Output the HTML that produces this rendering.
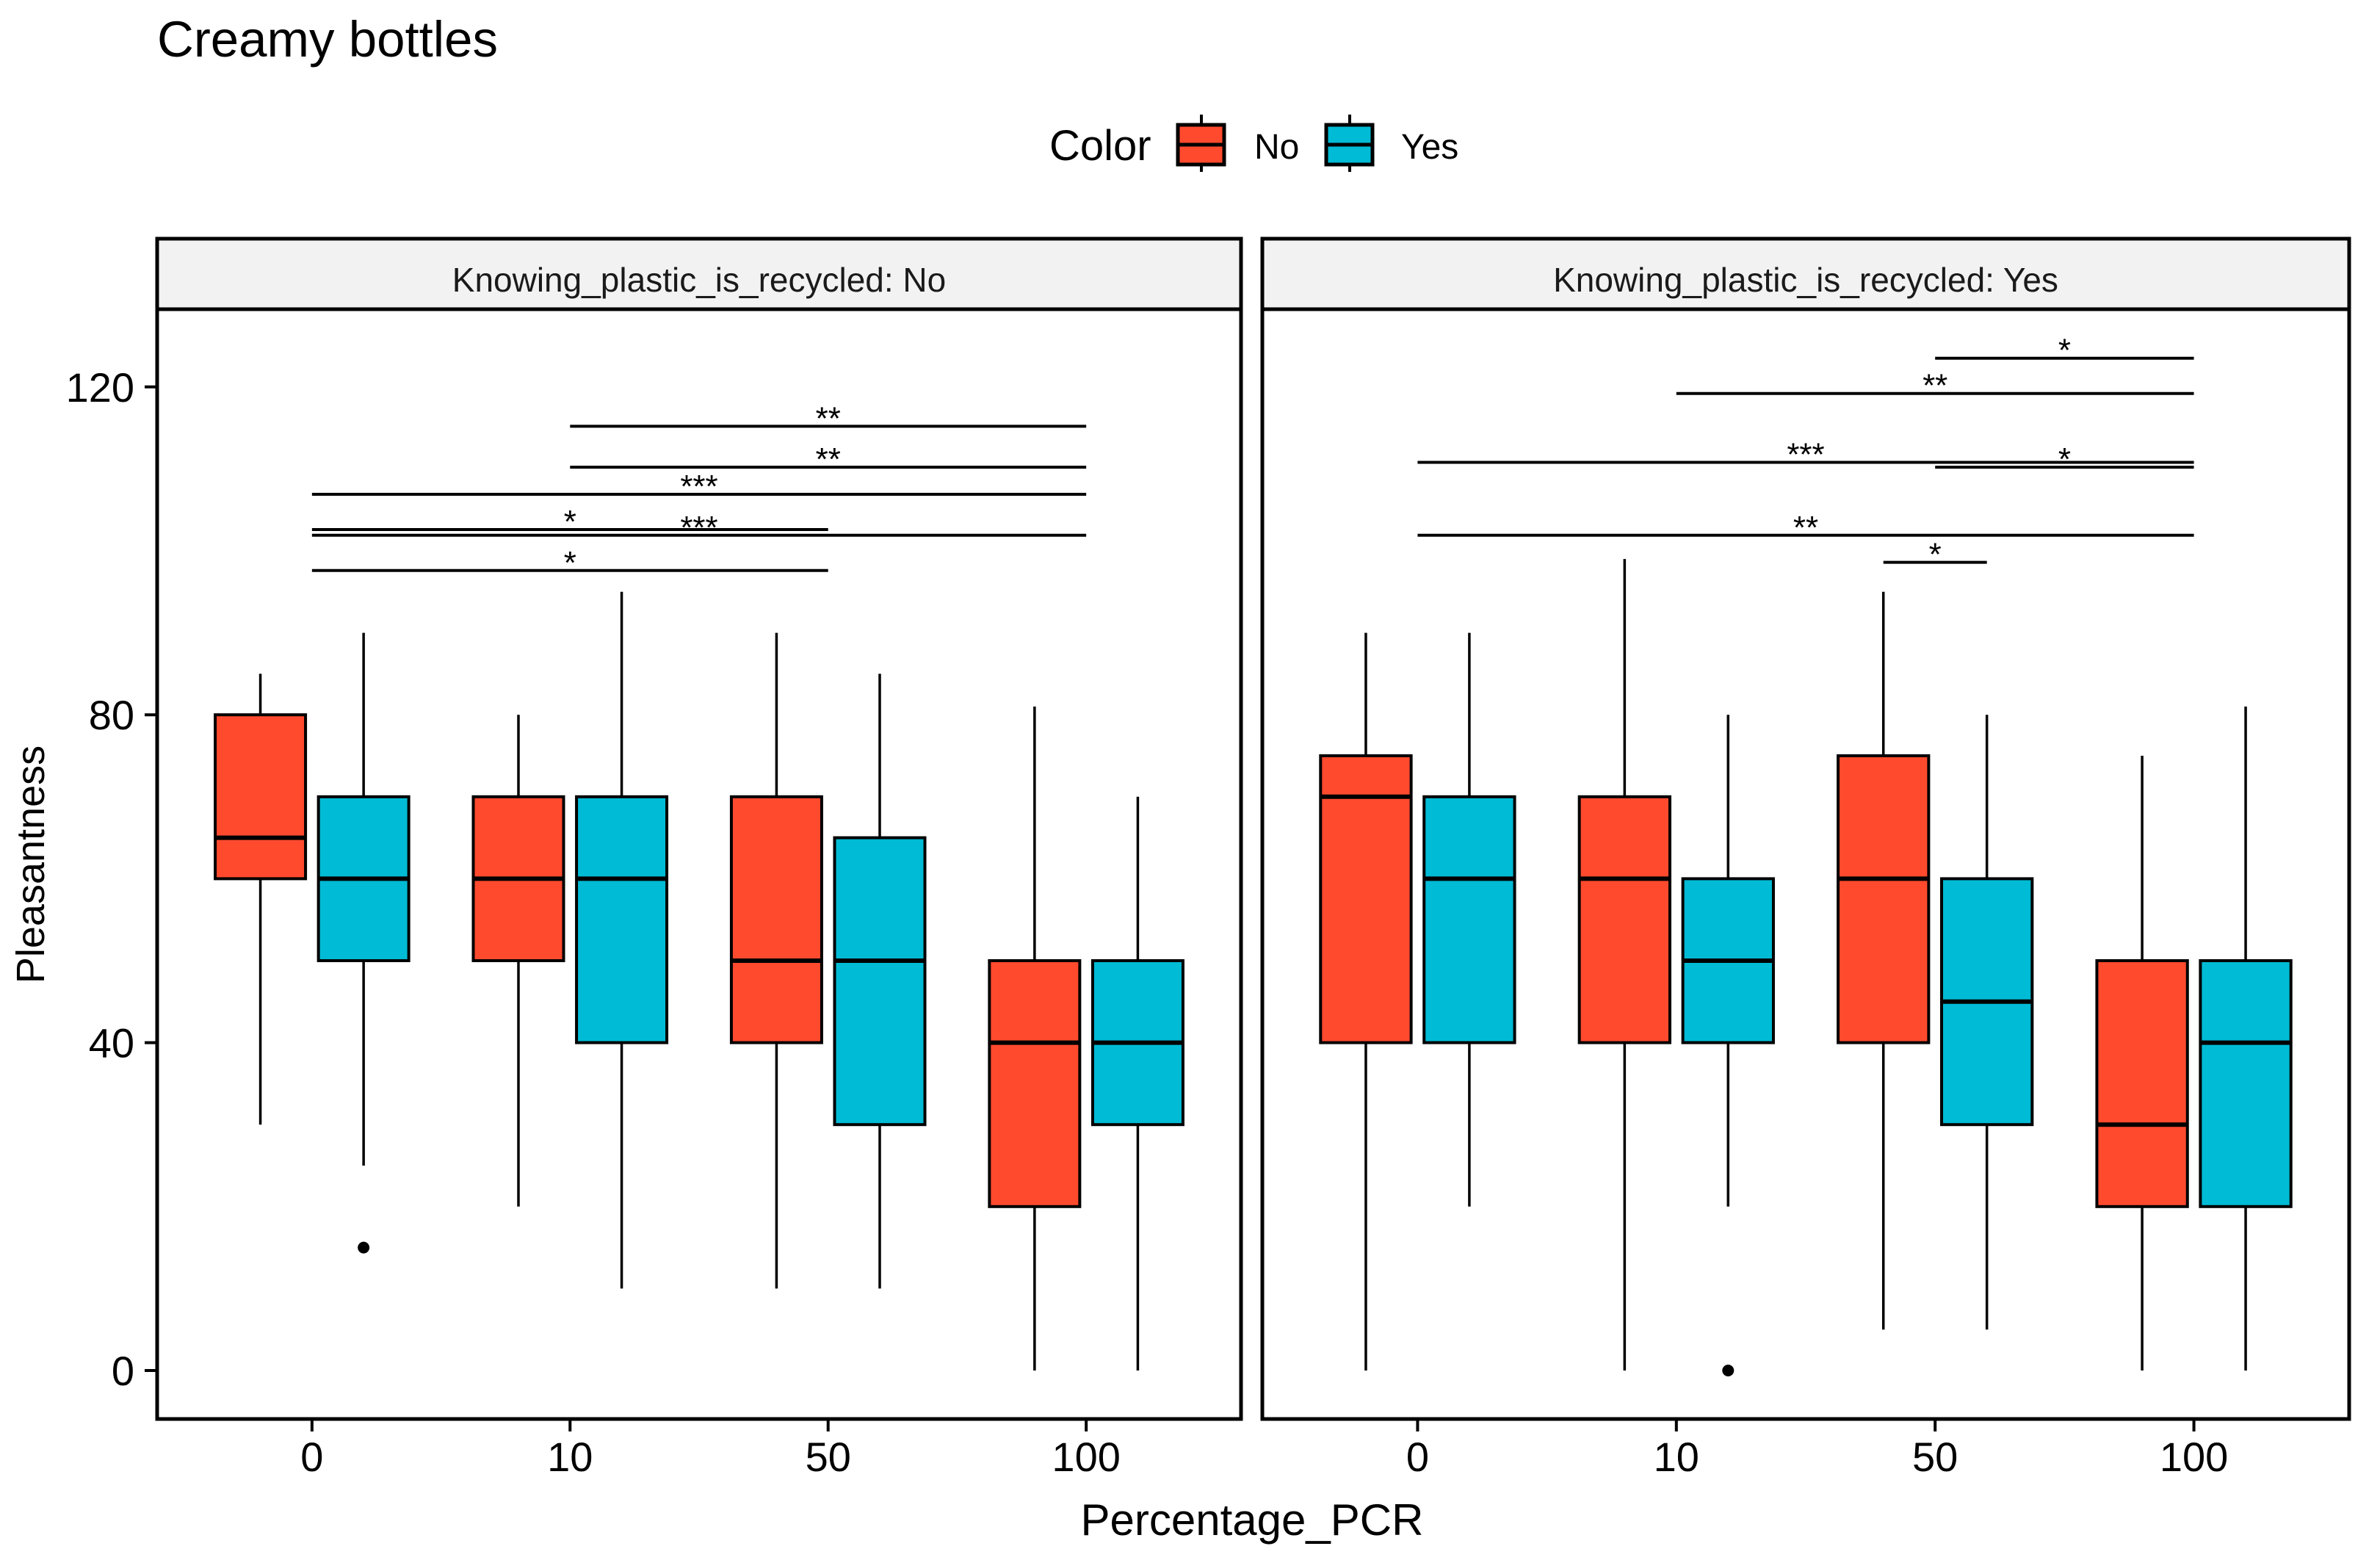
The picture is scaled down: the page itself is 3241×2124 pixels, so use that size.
<!DOCTYPE html>
<html><head><meta charset="utf-8"><style>
html,body{margin:0;padding:0;background:#fff;}
svg{display:block;font-family:"Liberation Sans",Arial,sans-serif;}
</style></head><body>
<svg id="chart" width="3241" height="2124" viewBox="0 0 3241 2124" xmlns="http://www.w3.org/2000/svg">
<rect x="0" y="0" width="3241" height="2124" fill="#fff"/>
<text x="214" y="77" font-size="69" fill="#000">Creamy bottles</text>
<g>
<text x="1429" y="218" font-size="58">Color</text>
<g>
<line x1="1636" y1="156" x2="1636" y2="234" stroke="#000" stroke-width="4"/>
<rect x="1604" y="170" width="63" height="54" fill="#FF4A2E" stroke="#000" stroke-width="5"/>
<line x1="1604" y1="197" x2="1667" y2="197" stroke="#000" stroke-width="5"/>
<text x="1708" y="216" font-size="48">No</text>
</g>
<g>
<line x1="1838" y1="156" x2="1838" y2="234" stroke="#000" stroke-width="4"/>
<rect x="1806" y="170" width="63" height="54" fill="#00BBD5" stroke="#000" stroke-width="5"/>
<line x1="1806" y1="197" x2="1869" y2="197" stroke="#000" stroke-width="5"/>
<text x="1908" y="216" font-size="48">Yes</text>
</g>
</g>
<text transform="translate(60,1177) rotate(-90)" text-anchor="middle" font-size="54">Pleasantness</text>
<text x="1705" y="2090" text-anchor="middle" font-size="60">Percentage_PCR</text>
<g id="panels"></g>
</svg>
<script>
const categories = ["0","10","50","100"];
const groups = ["No","Yes"];
const panelTitles = ["Knowing_plastic_is_recycled: No","Knowing_plastic_is_recycled: Yes"];
const yTicks = [0,40,80,120];
// [panel][category][group] = [lowWhisker, q1, median, q3, highWhisker]
const statsP1No  = [[30,60,65,80,85],[20,50,60,70,80],[10,40,50,70,90],[0,20,40,50,81]];
const statsP1Yes = [[25,50,60,70,90],[10,40,60,70,95],[10,30,50,65,85],[0,30,40,50,70]];
const statsP2No  = [[0,40,70,75,90],[0,40,60,70,99],[5,40,60,75,95],[0,20,30,50,75]];
const statsP2Yes = [[20,40,60,70,90],[20,40,50,60,80],[5,30,45,60,80],[0,20,40,50,81]];
// outliers: [panel, categoryIndex, groupIndex, value]
const outliers = [[0,0,1,15],[1,1,1,0]];
// brackets: [panel, fromCat, fromGroup(-1 = center), toCat, toGroup, yValue, label]
const brackets = [
 [0,1,-1,3,-1,115.2,"**"],[0,1,-1,3,-1,110.2,"**"],[0,0,-1,3,-1,106.9,"***"],
 [0,0,-1,2,-1,102.6,"*"],[0,0,-1,3,-1,101.9,"***"],[0,0,-1,2,-1,97.6,"*"],
 [1,2,-1,3,-1,123.5,"*"],[1,1,-1,3,-1,119.2,"**"],[1,0,-1,3,-1,110.8,"***"],
 [1,2,-1,3,-1,110.2,"*"],[1,0,-1,3,-1,101.9,"**"],[1,2,0,2,1,98.6,"*"]
];
const NS="http://www.w3.org/2000/svg";
const colors=["#FF4A2E","#00BBD5"];
const panels=[{left:214,right:1690},{left:1719,right:3199}];
const stripTop=325, stripBot=421, plotBot=1932;
const stats=[[statsP1No,statsP1Yes],[statsP2No,statsP2Yes]];
function yS(v){return 1866-v*11.16;}
function xS(p,ci,gi){const P=panels[p];const u=(P.right-P.left)/4.2;let x=P.left+(0.6+ci)*u;if(gi===0)x-=0.2*u;if(gi===1)x+=0.2*u;return x;}
function bw(p){return (panels[p].right-panels[p].left)/4.2*0.35;}
function mk(tag,attrs,parent){const e=document.createElementNS(NS,tag);for(const k in attrs)e.setAttribute(k,attrs[k]);parent.appendChild(e);return e;}
const root=document.getElementById('panels');
panels.forEach((P,p)=>{
 const g=mk('g',{},root);
 
 
 const strip=mk('rect',{x:P.left,y:stripTop,width:P.right-P.left,height:stripBot-stripTop,fill:'#F2F2F2',stroke:'#000','stroke-width':5},g);
 
 
 const st=mk('text',{x:(P.left+P.right)/2,y:397,'text-anchor':'middle','font-size':46,fill:'#1a1a1a'},g);
 st.textContent=panelTitles[p];
 
 
 if(p===0){
 yTicks.forEach(t=>{
  const y=yS(t);
  mk('line',{x1:P.left-17,x2:P.left,y1:y,y2:y,stroke:'#000','stroke-width':4},g);
  const tl=mk('text',{x:183,y:y+20,'text-anchor':'end','font-size':56},g);tl.textContent=t;
  
  
 });
 }
 categories.forEach((c,ci)=>{
  const x=xS(p,ci,-1);
  mk('line',{x1:x,x2:x,y1:plotBot,y2:plotBot+17,stroke:'#000','stroke-width':4},g);
  const tl=mk('text',{x:x,y:2003,'text-anchor':'middle','font-size':56},g);tl.textContent=c;
  
  
  groups.forEach((gr,gi)=>{
   const s=stats[p][gi][ci];const cx=xS(p,ci,gi);const w=bw(p);
   const bg=mk('g',{},g);
   
   
   mk('line',{x1:cx,x2:cx,y1:yS(s[0]),y2:yS(s[4]),stroke:'#000','stroke-width':3.5},bg);
   mk('rect',{x:cx-w/2,y:yS(s[3]),width:w,height:yS(s[1])-yS(s[3]),fill:colors[gi],stroke:'#000','stroke-width':4},bg);
   mk('line',{x1:cx-w/2,x2:cx+w/2,y1:yS(s[2]),y2:yS(s[2]),stroke:'#000','stroke-width':6},bg);
  });
 });
 outliers.filter(o=>o[0]===p).forEach(o=>{
  const c=mk('circle',{cx:xS(p,o[1],o[2]),cy:yS(o[3]),r:8,fill:'#000'},g);
  
  
 });
 brackets.filter(b=>b[0]===p).forEach(b=>{
  const x1=xS(p,b[1],b[2]),x2=xS(p,b[3],b[4]),y=yS(b[5]);
  const bl=mk('line',{x1:x1,x2:x2,y1:y,y2:y,stroke:'#000','stroke-width':4},g);
  
  
  const lt=mk('text',{x:(x1+x2)/2,y:y+4,'text-anchor':'middle','font-size':44},g);
  lt.textContent=b[6];
  
  
 });
 const fr=mk('rect',{x:P.left,y:stripBot,width:P.right-P.left,height:plotBot-stripBot,fill:'none',stroke:'#000','stroke-width':5},g);
 
 
});
</script>
</body></html>
